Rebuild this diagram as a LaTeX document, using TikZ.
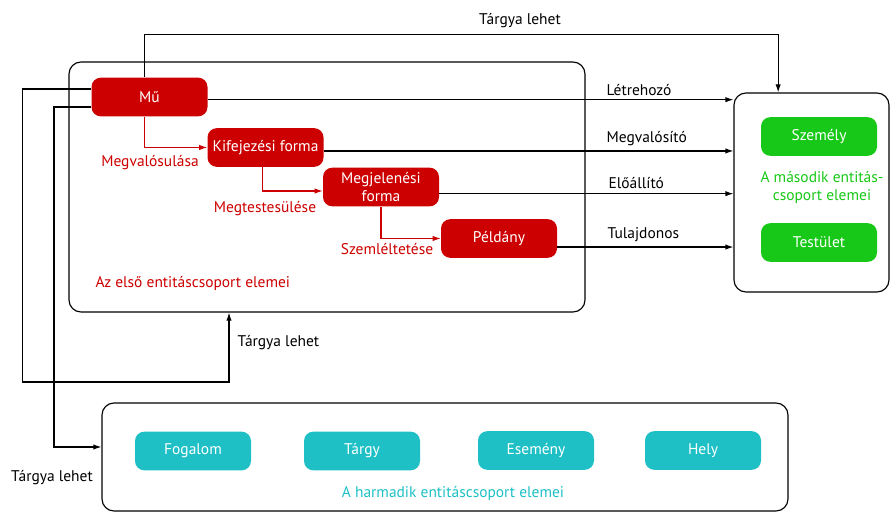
\documentclass[tikz,border=0pt]{standalone}
\usepackage{fontspec}
\setmainfont{PT Sans}
\usetikzlibrary{arrows.meta}
\definecolor{muvred}{RGB}{204,0,0}
\definecolor{szgreen}{RGB}{24,200,24}
\definecolor{tteal}{RGB}{30,192,198}

\begin{document}
\begin{tikzpicture}[x=0.75pt,y=-0.75pt,
  font=\fontsize{11.6}{14.2}\selectfont,
  ent/.style={rounded corners=7pt,minimum width=87pt,minimum height=29pt,inner sep=1pt,text=white,align=center},
  grp/.style={draw,line width=0.85pt,rounded corners=9pt},
  arr/.style={draw,line width=0.85pt,-{Latex[length=6pt,width=4pt]}},
  redarr/.style={arr,muvred},
  lbl/.style={inner sep=1pt}]
  \useasboundingbox (0,0) rectangle (890,513);
  \node [grp,minimum width=387pt,minimum height=187.5pt] (r1) at (327,187) {};
  \node [grp,minimum width=116.25pt,minimum height=149.25pt] (r2) at (811.5,192.5) {};
  \node [grp,minimum width=514.5pt,minimum height=81pt] (r3) at (445,457) {};
  \node [ent,fill=muvred] (mu) at (149.5,97) {Mű};
  \node [ent,fill=muvred] (kif) at (265.5,147.5) {Kifejezési forma};
  \node [ent,fill=muvred] (meg) at (381,187) {Megjelenési\\forma};
  \node [ent,fill=muvred] (pel) at (499,238.5) {Példány};
  \node [ent,fill=szgreen] (szem) at (819,136.5) {Személy};
  \node [ent,fill=szgreen] (test) at (819,242.5) {Testület};
  \node [ent,fill=tteal] (fog) at (193,451) {Fogalom};
  \node [ent,fill=tteal] (targy) at (362,451) {Tárgy};
  \node [ent,fill=tteal] (esem) at (536,450.5) {Esemény};
  \node [ent,fill=tteal] (hely) at (703,450.5) {Hely};
  \node [lbl,text=muvred,anchor=west] (g1) at (94,283) {Az első entitáscsoport elemei};
  \node [lbl,text=szgreen,align=center] (g2) at (822,187.5) {A második entitás-\\csoport elemei};
  \node [lbl,text=tteal] (g3) at (453,493) {A harmadik entitáscsoport elemei};
  \node [lbl,text=muvred] (mv) at (150,163) {Megvalósulása};
  \node [lbl,text=muvred] (mt) at (265,209) {Megtestesülése};
  \node [lbl,text=muvred] (sz) at (387,249) {Szemléltetése};
  \node [lbl] (tl1) at (520,21) {Tárgya lehet};
  \node [lbl,anchor=west] (tl2) at (236,343) {Tárgya lehet};
  \node [lbl] (tl3) at (52,478) {Tárgya lehet};
  \node [lbl,anchor=west] (lh) at (605,90) {Létrehozó};
  \node [lbl,anchor=west] (mg) at (605,139) {Megvalósító};
  \node [lbl,anchor=west] (ea) at (607,183) {Előállító};
  \node [lbl,anchor=west] (tj) at (606,235) {Tulajdonos};
  \coordinate (l1) at ([yshift=-2pt]mu.east);
  \coordinate (l2) at ([yshift=-2.6pt]kif.east);
  \coordinate (l3) at ([yshift=-5pt]meg.east);
  \coordinate (l4) at ([yshift=-6.4pt]pel.east);
  \coordinate (mw1) at ([yshift=6pt]mu.west);
  \coordinate (mw2) at ([yshift=-7.5pt]mu.west);
  \coordinate (lp1) at (22.7,382);
  \coordinate (lp2) at (54,447);
  \draw [arr] ([xshift=-4pt]mu.north) -- ++(0,-43) -| ([xshift=-25pt]r2.north);
  \draw [arr] (l1) -- (l1 -| r2.west);
  \draw [arr] (l2) -- (l2 -| r2.west);
  \draw [arr] (l3) -- (l3 -| r2.west);
  \draw [arr] (l4) -- (l4 -| r2.west);
  \draw [arr] (mw1) -| (lp1) -| ([xshift=-73.5pt]r1.south);
  \draw [arr] (mw2) -| (lp2) -- (lp2 -| r3.west);
  \draw [redarr] ([xshift=-4pt]mu.south) |- (kif.west);
  \draw [redarr] ([xshift=-2pt]kif.south) |- ([yshift=-3pt]meg.west);
  \draw [redarr] (meg.south) |- (pel.west);
\end{tikzpicture}
\end{document}
